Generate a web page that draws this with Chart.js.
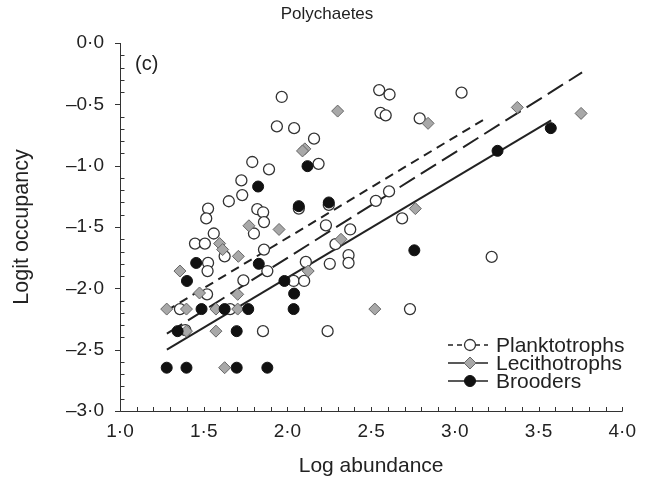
<!DOCTYPE html>
<html>
<head>
<meta charset="utf-8">
<script src="https://cdn.jsdelivr.net/npm/chart.js@4.4.0/dist/chart.umd.min.js"></script>
<style>
  html, body { margin: 0; padding: 0; background: #fff; }
  canvas { display: block; }
</style>
</head>
<body>
<canvas id="occ-chart" width="645" height="479"></canvas>
<script>
'use strict'

// Planktotrophs (open circles)
const plankX = [1.966, 1.937, 1.79, 1.89, 1.725, 1.73, 1.65, 1.526, 1.515, 1.82, 1.855, 1.86,
  2.548, 2.61, 3.04, 2.556, 2.587, 2.79, 2.04, 2.159, 2.186, 2.068, 2.247, 2.528, 2.607, 2.685,
  2.23, 2.375, 1.80, 1.86, 1.88, 1.737, 2.11, 2.287, 2.365, 2.365, 2.253, 2.037, 2.10, 3.22,
  2.732, 2.24, 1.56, 1.448, 1.507, 1.625, 1.526, 1.523, 1.52, 1.358, 1.658, 1.39, 1.854];
const plankY = [-0.44, -0.68, -0.97, -1.03, -1.12, -1.24, -1.29, -1.35, -1.43, -1.355, -1.38, -1.46,
  -0.384, -0.42, -0.405, -0.57, -0.59, -0.615, -0.694, -0.78, -0.985, -1.35, -1.32, -1.287, -1.21, -1.43,
  -1.486, -1.52, -1.553, -1.684, -1.859, -1.935, -1.785, -1.64, -1.73, -1.793, -1.80, -1.94, -1.94, -1.744,
  -2.169, -2.349, -1.553, -1.635, -1.635, -1.739, -1.793, -1.859, -2.049, -2.169, -2.169, -2.34, -2.349];

// Lecithotrophs (grey diamonds)
const leciX = [1.77, 1.95, 2.30, 2.84, 3.373, 3.754, 2.104, 2.09, 2.764, 1.707, 2.32, 2.124, 2.522,
  1.595, 1.613, 1.358, 1.475, 1.703, 1.279, 1.397, 1.573, 1.703, 1.397, 1.573, 1.625];
const leciY = [-1.49, -1.52, -0.555, -0.655, -0.525, -0.574, -0.863, -0.88, -1.35, -1.739, -1.60, -1.859, -2.169,
  -1.635, -1.684, -1.859, -2.038, -2.049, -2.169, -2.169, -2.169, -2.169, -2.349, -2.349, -2.647];

// Brooders (filled circles)
const broodX = [1.825, 3.573, 3.255, 2.12, 2.068, 2.247, 2.758, 1.829, 1.982, 2.04, 2.037, 1.455, 1.40,
  1.487, 1.625, 1.766, 1.344, 1.697, 1.279, 1.397, 1.697, 1.88];
const broodY = [-1.17, -0.694, -0.879, -1.004, -1.33, -1.30, -1.69, -1.80, -1.94, -2.043, -2.169, -1.793, -1.94,
  -2.169, -2.169, -2.169, -2.349, -2.349, -2.647, -2.647, -2.647, -2.647];

// fitted lines, end points
const plankFitX = [1.28, 3.19];
const plankFitY = [-2.18, -0.61];
const leciFitX = [1.28, 3.76];
const leciFitY = [-2.37, -0.24];
const broodFitX = [1.28, 3.575];
const broodFitY = [-2.50, -0.63];

const xRange = [1, 4];
const yRange = [-3, 0];

const pts = (xs, ys) => xs.map((x, i) => ({ x: x, y: ys[i] }));
const isMajor = v => Math.abs(v * 2 - Math.round(v * 2)) < 1e-6;
const fmt = v => v.toFixed(1).replace('.', '\u00b7').replace('-', '\u2013');

const family = '"Liberation Sans", Arial, sans-serif';
Chart.defaults.font.family = family;
Chart.defaults.color = '#222';

const ink = '#222';

function drawMarker(ctx, style, x, y) {
  ctx.beginPath();
  if (style === 'rectRot') {
    const r = 6;
    ctx.moveTo(x, y - r); ctx.lineTo(x + r, y); ctx.lineTo(x, y + r); ctx.lineTo(x - r, y); ctx.closePath();
    ctx.fillStyle = '#a8a8a8'; ctx.strokeStyle = '#666'; ctx.lineWidth = 1;
  } else if (style === 'open') {
    ctx.arc(x, y, 5.5, 0, Math.PI * 2);
    ctx.fillStyle = '#fff'; ctx.strokeStyle = '#333'; ctx.lineWidth = 1.3;
  } else {
    ctx.arc(x, y, 5.5, 0, Math.PI * 2);
    ctx.fillStyle = '#111'; ctx.strokeStyle = '#111'; ctx.lineWidth = 1;
  }
  ctx.fill();
  ctx.stroke();
}

const axisTicks = {
  id: 'axisTicks',
  afterDraw(chart) {
    const { ctx, scales: { x, y }, chartArea: a } = chart;
    ctx.save();
    ctx.strokeStyle = '#333';
    ctx.lineWidth = 1;
    ctx.beginPath();
    ctx.moveTo(a.left + 0.5, a.top);
    ctx.lineTo(a.left + 0.5, a.bottom + 0.5);
    ctx.lineTo(a.right, a.bottom + 0.5);
    y.ticks.forEach(t => {
      const py = Math.round(y.getPixelForValue(t.value)) + 0.5;
      if (isMajor(t.value)) { ctx.moveTo(a.left - 5, py); ctx.lineTo(a.left + 0.5, py); }
      else { ctx.moveTo(a.left + 0.5, py); ctx.lineTo(a.left + 4.5, py); }
    });
    x.ticks.forEach(t => {
      const px = Math.round(x.getPixelForValue(t.value)) + 0.5;
      ctx.moveTo(px, a.bottom + 0.5);
      ctx.lineTo(px, a.bottom - 4);
    });
    ctx.stroke();

    ctx.fillStyle = ink;
    ctx.textBaseline = 'middle';

    // title
    ctx.font = '17px ' + family;
    ctx.textAlign = 'center';
    ctx.fillText('Polychaetes', 327, 14);

    // panel letter
    ctx.font = '20px ' + family;
    ctx.textAlign = 'left';
    ctx.fillText('(c)', a.left + 15, a.top + 21);

    // legend
    ctx.font = '21px ' + family;
    const lx = 448, tx = 496;
    const rows = [
      { label: 'Planktotrophs', dash: [5, 4], marker: 'open', y: 345 },
      { label: 'Lecithotrophs', dash: [], marker: 'rectRot', y: 363 },
      { label: 'Brooders', dash: [], marker: 'filled', y: 381 }
    ];
    rows.forEach(r => {
      ctx.strokeStyle = ink;
      ctx.lineWidth = 1.5;
      ctx.setLineDash(r.dash);
      ctx.beginPath();
      ctx.moveTo(lx, r.y);
      ctx.lineTo(lx + 40, r.y);
      ctx.stroke();
      ctx.setLineDash([]);
      drawMarker(ctx, r.marker, lx + 22, r.y);
      ctx.fillStyle = ink;
      ctx.fillText(r.label, tx, r.y + 1);
    });
    ctx.restore();
  }
};

const fitLine = (xs, ys, dash) => ({
  type: 'line',
  data: pts(xs, ys),
  showLine: true,
  borderColor: ink,
  borderWidth: 2,
  borderDash: dash,
  pointRadius: 0,
  fill: false,
  order: 3
});

const ctx = document.getElementById('occ-chart').getContext('2d');
const occChart = new Chart(ctx, {
  type: 'scatter',
  data: {
    datasets: [
      {
        label: 'Brooders',
        data: pts(broodX, broodY),
        pointStyle: 'circle',
        pointRadius: 5.5,
        backgroundColor: '#111',
        borderColor: '#111',
        borderWidth: 1,
        order: 0
      },
      {
        label: 'Lecithotrophs',
        data: pts(leciX, leciY),
        pointStyle: 'rectRot',
        pointRadius: 6,
        backgroundColor: '#a8a8a8',
        borderColor: '#666',
        borderWidth: 1,
        order: 1
      },
      {
        label: 'Planktotrophs',
        data: pts(plankX, plankY),
        pointStyle: 'circle',
        pointRadius: 5.5,
        backgroundColor: '#fff',
        borderColor: '#333',
        borderWidth: 1.3,
        order: 2
      },
      fitLine(plankFitX, plankFitY, [9, 6]),
      fitLine(leciFitX, leciFitY, [18, 7]),
      fitLine(broodFitX, broodFitY, [])
    ]
  },
  options: {
    responsive: false,
    animation: false,
    layout: { padding: { top: 43, right: 16, left: 0, bottom: 0 } },
    plugins: {
      legend: { display: false },
      tooltip: { enabled: false },
      title: { display: false }
    },
    scales: {
      x: {
        type: 'linear',
        min: xRange[0],
        max: xRange[1],
        afterFit(scale) { scale.height = 68; },
        grid: { display: false, drawTicks: false },
        border: { display: false },
        ticks: {
          stepSize: 0.1,
          autoSkip: false,
          maxRotation: 0,
          padding: 9,
          color: ink,
          font: { size: 19 },
          callback: v => isMajor(v) ? fmt(v) : ''
        },
        title: {
          display: true,
          text: 'Log abundance',
          color: ink,
          font: { size: 21 },
          padding: { top: 4, bottom: 0 }
        }
      },
      y: {
        type: 'linear',
        min: yRange[0],
        max: yRange[1],
        afterFit(scale) { scale.width = 120; },
        grid: { display: false, drawTicks: false },
        border: { display: false },
        ticks: {
          stepSize: 0.1,
          autoSkip: false,
          padding: 16,
          color: ink,
          font: { size: 19 },
          callback: v => isMajor(v) ? fmt(v) : ''
        },
        title: {
          display: true,
          text: 'Logit occupancy',
          color: ink,
          font: { size: 21.5 },
          padding: { top: 9, bottom: 0 }
        }
      }
    }
  },
  plugins: [axisTicks]
});
</script>
</body>
</html>
